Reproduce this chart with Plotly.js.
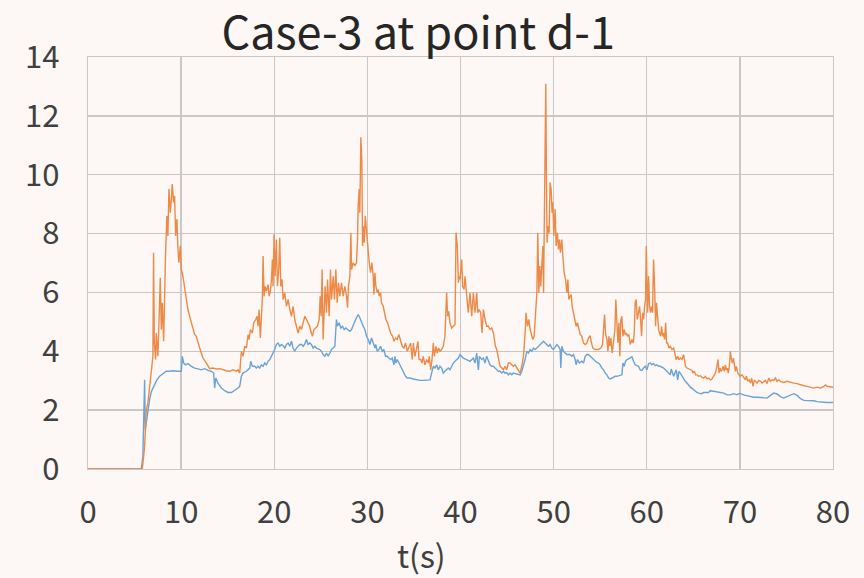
<!DOCTYPE html>
<html>
<head>
<meta charset="utf-8">
<script src="https://cdn.plot.ly/plotly-3.0.1.min.js"></script>
<style>
  html, body { margin: 0; padding: 0; background: #fdf8f5; }
  #chart { width: 864px; height: 578px; }
</style>
</head>
<body>
<div id="chart"></div>
<script>
// Time (s) and value samples for the two recorded series.
const orangeT = [
  0, 5.83, 6.08, 6.26, 6.43, 6.61, 6.80, 6.97, 7.04, 7.12,
  7.26, 7.33, 7.51, 7.69, 7.76, 7.87, 7.98, 8.12, 8.23, 8.33,
  8.47, 8.58, 8.69, 8.84, 8.95, 9.05, 9.19, 9.30, 9.41, 9.55,
  9.66, 9.76, 9.91, 10.02, 10.19, 10.38, 10.56, 10.73, 10.91, 11.10,
  11.27, 11.45, 11.63, 11.81, 11.99, 12.17, 12.34, 12.71, 13.06, 13.42,
  13.78, 14.14, 14.49, 14.86, 15.22, 15.57, 15.94, 16.11,
  16.29, 16.47, 16.65, 16.83, 17.01, 17.19, 17.29, 17.44, 17.65, 17.80,
  18.01, 18.15, 18.26, 18.37, 18.51, 18.62, 18.73, 18.80, 18.91, 19.01,
  19.16, 19.34, 19.44, 19.59, 19.70, 19.80, 19.87, 19.98, 20.09, 20.23,
  20.34, 20.48, 20.59, 20.70, 20.84, 20.95, 21.13, 21.31, 21.49, 21.67,
  21.85, 22.02, 22.20, 22.38, 22.56, 22.74, 22.92, 23.10, 23.28, 23.46,
  23.63, 23.81, 23.92, 24.10, 24.25, 24.46, 24.64, 24.82, 24.93, 25.03,
  25.14, 25.25, 25.36, 25.46, 25.61, 25.72, 25.90, 26.04, 26.15, 26.33,
  26.47, 26.61, 26.76, 26.90, 27.04, 27.22, 27.40, 27.58, 27.76, 27.87,
  27.97,
  28.12, 28.23, 28.30, 28.48, 28.66, 28.83, 28.94, 29.01, 29.12, 29.19,
  29.30, 29.41, 29.48, 29.55, 29.66, 29.77, 29.91, 29.98, 30.09, 30.20,
  30.34, 30.48, 30.63, 30.70, 30.81, 30.91, 31.06, 31.16, 31.27, 31.42,
  31.52, 31.70, 31.81, 31.99, 32.17, 32.34, 32.49, 32.71, 32.85, 33.03,
  33.21, 33.38, 33.56, 33.74, 33.92, 34.10, 34.28, 34.46, 34.64, 34.82,
  34.93, 35.11, 35.29, 35.43, 35.54, 35.72, 35.86, 36.00, 36.18, 36.36,
  36.54, 36.65, 36.80, 36.94, 37.08, 37.19, 37.37, 37.51, 37.65, 37.80,
  37.97, 38.15, 38.33, 38.44, 38.51, 38.62, 38.73, 38.87, 39.05, 39.23,
  39.41, 39.52, 39.66, 39.77, 39.88,
  39.95, 40.13, 40.23, 40.38, 40.48, 40.66, 40.84, 41.02, 41.20, 41.38,
  41.56, 41.74, 41.85, 41.99, 42.17, 42.31, 42.46, 42.63, 42.81, 42.99,
  43.17, 43.35, 43.53, 43.64, 43.75, 43.89, 44.07, 44.25, 44.43, 44.61,
  44.78, 44.96, 45.14, 45.32, 45.50, 45.68, 45.86, 46.04, 46.22, 46.40,
  46.58, 46.76, 46.94, 47.04, 47.19, 47.33, 47.48, 47.62, 47.76, 47.91,
  48.05, 48.20, 48.30, 48.41, 48.52, 48.62, 48.73, 48.84, 48.92, 48.98,
  49.09, 49.16, 49.23, 49.30, 49.41, 49.52, 49.62, 49.73, 49.84, 49.91,
  50.02, 50.16, 50.27, 50.41, 50.52, 50.63, 50.73, 50.88, 50.99, 51.13,
  51.28, 51.42, 51.53, 51.63,
  51.77, 51.88, 51.99, 52.13, 52.31, 52.42, 52.56, 52.71, 52.85, 53.03,
  53.21, 53.39, 53.56, 53.74, 53.92, 54.03, 54.21, 54.46, 54.82, 55.07,
  55.25, 55.36, 55.47, 55.57, 55.72, 55.83, 55.93, 56.04, 56.15, 56.29,
  56.43, 56.58, 56.68, 56.79, 56.90, 57.01, 57.11, 57.22, 57.33, 57.44,
  57.58, 57.69, 57.80, 57.94, 58.08, 58.23, 58.41, 58.55, 58.66, 58.76,
  58.87, 58.98, 59.12, 59.23, 59.34, 59.44, 59.55, 59.66, 59.77, 59.87,
  59.95, 60.02, 60.09, 60.20, 60.30, 60.41, 60.52, 60.62, 60.73, 60.84,
  60.95, 61.05, 61.16, 61.27, 61.38, 61.49, 61.59, 61.70, 61.81, 61.92,
  62.03, 62.13, 62.24, 62.39, 62.53, 62.71, 62.89, 63.03, 63.17, 63.32,
  63.46,
  63.60, 63.78, 63.96, 64.07, 64.17, 64.32, 64.50, 64.68, 64.86, 64.96,
  65.11, 65.25, 65.39, 65.57, 65.75, 65.93, 66.11, 66.29, 66.47, 66.65,
  66.83, 67.01, 67.19, 67.37, 67.54, 67.65, 67.76, 67.87, 67.97, 68.08,
  68.19, 68.33, 68.44, 68.55, 68.66, 68.76, 68.87, 68.98, 69.09, 69.19,
  69.30, 69.41, 69.52, 69.62, 69.77, 69.91, 70.05, 70.23, 70.41, 70.59,
  70.70, 70.84, 70.99, 71.13, 71.27, 71.41, 71.56, 71.70, 71.84, 72.02,
  72.20, 72.38, 72.56, 72.74, 72.92, 73.10, 73.28, 73.46, 73.64, 73.82,
  74.00, 74.18, 74.35, 74.71, 75.07, 75.43, 75.79, 76.15, 76.51, 76.87,
  77.22, 77.58, 77.94, 78.30, 78.66, 79.02, 79.20, 79.38, 79.73, 80.00
];
const orangeV = [
  0, 0, 0.76, 2.01, 2.24, 2.81, 3.26, 3.83, 7.35, 4.28,
  3.72, 4.62, 3.83, 5.42, 6.50, 4.74, 5.65, 4.34, 6.33, 7.35,
  8.60, 7.92, 9.51, 8.71, 9.17, 9.68, 9.06, 9.28, 7.92, 8.49,
  7.46, 7.01, 7.58, 6.78, 6.55, 6.10, 5.76, 5.42, 5.19, 4.97,
  4.85, 4.57, 4.51, 4.28, 4.11, 3.94, 3.77, 3.60, 3.41, 3.43,
  3.40, 3.41, 3.37, 3.34, 3.32, 3.37, 3.32, 3.37,
  3.26, 4.00, 3.83, 4.17, 4.11, 4.57, 4.40, 4.74, 4.62, 4.97,
  5.08, 5.19, 4.85, 5.42, 4.45, 5.19, 5.87, 7.24, 5.87, 6.21,
  6.04, 6.27, 5.87, 6.04, 6.44, 7.12, 6.21, 7.98, 6.55, 7.80,
  6.21, 6.78, 7.86, 6.21, 6.44, 5.76, 5.99, 5.53, 5.76, 5.42,
  5.19, 5.53, 5.08, 4.85, 4.62, 4.85, 4.74, 4.97, 5.19, 5.08,
  4.97, 4.85, 4.68, 4.51, 4.74, 4.79, 4.85, 5.08, 5.87, 5.19,
  6.78, 4.40, 5.65, 6.21, 5.31, 6.44, 5.19, 6.78, 5.76, 6.55,
  5.76, 6.78, 5.65, 6.33, 5.87, 6.33, 5.87, 6.21, 5.87, 5.48,
  6.21,
  6.55, 8.03, 6.78, 7.01, 6.90, 7.01, 7.80, 8.94, 9.51, 8.71,
  11.27, 10.42, 7.58, 8.26, 7.69, 8.60, 8.03, 7.69, 7.46, 7.01,
  6.67, 7.01, 6.55, 5.93, 6.67, 6.21, 5.99, 6.10, 5.87, 5.99,
  5.65, 5.53, 5.36, 5.08, 4.97, 4.79, 4.62, 4.51, 4.34, 4.45,
  4.40, 4.57, 4.40, 4.17, 4.11, 4.28, 4.00, 4.17, 4.28, 3.72,
  4.28, 3.83, 4.06, 4.34, 3.72, 3.72, 3.60, 3.83, 3.54, 3.72,
  3.60, 3.83, 3.37, 3.72, 4.28, 3.83, 4.17, 3.94, 4.11, 4.00,
  4.06, 4.17, 4.51, 5.19, 5.99, 5.19, 5.36, 4.97, 4.79, 4.85,
  4.91, 8.03, 7.58, 6.33, 6.55,
  6.44, 7.12, 6.21, 6.10, 6.55, 5.87, 5.31, 5.99, 5.19, 5.99,
  5.31, 5.99, 5.31, 5.42, 5.31, 4.62, 5.42, 5.08, 4.85, 4.85,
  4.74, 4.79, 4.62, 4.40, 4.17, 4.06, 3.72, 3.49, 3.43, 3.37,
  3.49, 3.37, 3.60, 3.60, 3.54, 3.49, 3.54, 3.43, 3.37, 3.26,
  3.49, 3.83, 4.62, 5.31, 4.85, 5.08, 4.74, 4.51, 4.40, 4.51,
  5.31, 5.99, 8.03, 5.99, 6.90, 6.21, 6.90, 7.58, 5.99, 7.80,
  9.85, 13.09, 9.85, 7.69, 8.26, 8.03, 9.74, 9.51, 8.71, 9.06,
  7.92, 8.83, 7.58, 8.03, 7.46, 7.80, 7.35, 7.80, 7.24, 6.67,
  6.44, 5.99, 6.44, 5.76,
  5.87, 5.93, 5.53, 5.31, 5.08, 4.85, 4.97, 4.74, 4.57, 4.51,
  4.28, 4.23, 4.28, 4.45, 4.53, 4.34, 4.11, 4.06, 4.06, 4.11,
  4.23, 4.74, 5.25, 4.62, 4.40, 4.00, 4.51, 4.17, 4.45, 3.94,
  4.28, 4.74, 5.76, 4.74, 4.28, 4.97, 3.83, 5.08, 5.19, 4.51,
  4.74, 4.57, 4.62, 4.51, 4.57, 4.23, 4.40, 4.28, 4.62, 5.65,
  5.76, 5.08, 5.31, 5.53, 5.08, 4.51, 5.31, 5.08, 5.53, 5.76,
  7.58, 6.44, 5.31, 6.55, 5.53, 5.31, 5.53, 5.31, 7.12, 6.21,
  4.85, 5.65, 4.97, 4.74, 4.62, 4.51, 4.85, 4.51, 4.62, 4.40,
  4.97, 4.28, 4.28, 4.11, 4.17, 4.06, 4.11, 3.83, 3.71, 3.83,
  3.71,
  3.77, 3.72, 3.89, 3.60, 3.49, 3.43, 3.40, 3.37, 3.35, 3.26,
  3.32, 3.20, 3.20, 3.15, 3.17, 3.12, 3.09, 3.15, 3.06, 3.09,
  3.03, 3.06, 3.15, 3.26, 3.49, 3.72, 3.26, 3.43, 3.32, 3.37,
  3.49, 3.32, 3.54, 3.37, 3.43, 3.26, 3.49, 4.00, 3.72, 3.60,
  3.77, 3.49, 3.32, 3.49, 3.26, 3.20, 3.15, 3.20, 3.09, 3.03,
  3.15, 2.98, 3.03, 2.92, 3.09, 2.81, 3.03, 2.98, 2.92, 3.01,
  2.98, 2.92, 2.98, 3.01, 2.90, 3.09, 2.98, 3.03, 3.01, 3.09,
  2.98, 3.03, 2.98, 2.94, 2.98, 2.94, 2.92, 2.90, 2.86, 2.83,
  2.81, 2.78, 2.75, 2.78, 2.75, 2.81, 2.86, 2.81, 2.78, 2.78
];

const blueT = [
  0, 5.72, 5.89, 6.08, 6.15, 6.32, 6.43, 6.61, 6.80, 6.97,
  7.15, 7.40, 7.69, 8.04, 8.41, 8.76, 9.12, 9.66, 10.02, 10.13,
  10.27, 10.48, 10.73, 11.10, 11.45, 11.81, 12.17, 12.53, 12.88, 13.25,
  13.49, 13.60, 13.71, 13.96, 14.32, 14.68, 15.03, 15.40, 15.75, 16.11,
  16.29, 16.47, 16.65, 17.01, 17.37, 17.47, 17.65, 17.90, 18.08, 18.26,
  18.44, 18.62, 18.80, 18.98, 19.16, 19.34, 19.52, 19.70, 19.87, 20.05,
  20.23, 20.41, 20.59, 20.77, 20.95, 21.13, 21.31, 21.49, 21.67, 21.85,
  22.02, 22.20, 22.38, 22.56, 22.74, 22.92, 23.10, 23.28, 23.46, 23.63,
  23.81, 23.99, 24.17, 24.35, 24.53, 24.89, 25.07, 25.25, 25.43, 25.61,
  25.79, 25.97, 26.15, 26.33, 26.51, 26.61, 26.68, 26.79, 26.97, 27.15,
  27.33, 27.51, 27.69, 27.87,
  28.12, 28.30, 28.48, 28.66, 28.83, 29.01, 29.19, 29.37, 29.55, 29.73,
  29.91, 30.09, 30.27, 30.45, 30.63, 30.81, 30.91, 31.06, 31.24, 31.42,
  31.60, 31.77, 31.95, 32.13, 32.31, 32.49, 32.67, 32.85, 32.96, 33.06,
  33.21, 33.38, 33.56, 33.74, 33.92, 34.10, 34.28, 34.57, 34.93, 35.29,
  35.65, 36.00, 36.36, 36.72, 36.90, 37.08, 37.26, 37.44, 37.62, 37.80,
  37.97, 38.15, 38.33, 38.51, 38.69, 38.87, 39.05, 39.23, 39.41, 39.59,
  39.77,
  39.95, 40.30, 40.66, 41.02, 41.38, 41.56, 41.74, 41.92, 42.03, 42.28,
  42.46, 42.63, 42.81, 42.99, 43.17, 43.35, 43.53, 43.71, 43.89, 44.07,
  44.25, 44.43, 44.61, 44.78, 44.96, 45.14, 45.32, 45.50, 45.68, 46.04,
  46.40, 46.58, 46.76, 46.94, 47.12, 47.30, 47.48, 47.66, 47.83, 48.01,
  48.19, 48.37, 48.55, 48.73, 48.91, 49.09, 49.27, 49.45, 49.62, 49.80,
  49.98, 50.16, 50.34, 50.52, 50.70, 50.77, 50.88, 51.06, 51.24, 51.42,
  51.59,
  51.77, 51.95, 52.13, 52.31, 52.42, 52.56, 52.78, 53.03, 53.21, 53.39,
  53.56, 53.74, 53.92, 54.10, 54.28, 54.46, 54.64, 54.82, 55.00, 55.18,
  55.36, 55.54, 55.72, 55.90, 56.08, 56.25, 56.43, 56.61, 56.79, 56.97,
  57.15, 57.33, 57.44, 57.58, 57.72, 57.87, 58.05, 58.23, 58.41, 58.58,
  58.76, 58.94, 59.12, 59.30, 59.48, 59.66, 59.84, 60.02, 60.20, 60.38,
  60.56, 60.73, 60.91, 61.09, 61.27, 61.45, 61.63, 61.81, 61.99, 62.17,
  62.35, 62.53, 62.63, 62.74, 62.89, 63.06, 63.17, 63.32, 63.46,
  63.60, 63.78, 63.96, 64.14, 64.32, 64.50, 64.68, 64.86, 65.04, 65.22,
  65.39, 65.57, 65.75, 65.93, 66.11, 66.29, 66.47, 66.65, 66.83, 67.01,
  67.19, 67.54, 67.90, 68.26, 68.62, 68.98, 69.34, 69.70, 69.87, 70.05,
  70.41, 70.77, 71.13, 71.49, 71.84, 72.20, 72.56, 72.74, 72.92, 73.28,
  73.64, 74.00, 74.35, 74.71, 75.07, 75.43, 75.79, 76.15, 76.51, 76.87,
  77.22, 77.58, 77.94, 78.30, 78.66, 79.02, 79.38, 79.73, 80.00
];
const blueV = [
  0, 0, 0.42, 3.03, 1.33, 1.78, 2.01, 2.35, 2.63, 2.75,
  2.86, 3.03, 3.15, 3.24, 3.32, 3.32, 3.34, 3.32, 3.32, 3.83,
  3.60, 3.54, 3.58, 3.49, 3.43, 3.40, 3.37, 3.41, 3.35, 3.32,
  3.26, 2.75, 3.09, 2.92, 2.75, 2.66, 2.60, 2.60, 2.67, 2.75,
  2.81, 3.15, 3.26, 3.32, 3.43, 3.66, 3.49, 3.49, 3.43, 3.49,
  3.43, 3.54, 3.49, 3.60, 3.54, 3.66, 3.72, 3.83, 3.94, 4.06,
  4.23, 4.28, 4.17, 4.23, 4.19, 4.11, 4.23, 4.28, 4.17, 4.34,
  4.11, 4.00, 4.11, 4.17, 4.23, 4.23, 4.17, 4.25, 4.40, 4.23,
  4.28, 4.23, 4.11, 4.17, 4.11, 4.06, 4.00, 3.89, 3.83, 3.94,
  3.83, 3.94, 4.06, 4.11, 4.17, 4.74, 5.08, 4.85, 4.97, 4.79,
  4.85, 4.74, 4.79, 4.74,
  4.68, 4.74, 4.91, 5.02, 5.14, 5.25, 5.14, 4.97, 4.85, 4.74,
  4.51, 4.40, 4.23, 4.45, 4.28, 4.11, 4.23, 4.00, 4.06, 4.17,
  4.00, 4.06, 3.83, 3.83, 3.77, 3.72, 3.77, 3.54, 3.83, 3.60,
  3.72, 3.60, 3.49, 3.37, 3.26, 3.15, 3.09, 3.09, 3.06, 3.03,
  3.01, 3.01, 3.01, 3.03, 3.26, 3.49, 3.43, 3.54, 3.37, 3.49,
  3.43, 3.26, 3.32, 3.37, 3.43, 3.37, 3.49, 3.60, 3.66, 3.72,
  3.77,
  3.89, 3.77, 3.72, 3.66, 3.77, 3.60, 3.94, 3.37, 3.83, 3.72,
  3.77, 3.60, 3.83, 3.66, 3.54, 3.49, 3.49, 3.43, 3.37, 3.32,
  3.32, 3.26, 3.32, 3.26, 3.28, 3.20, 3.26, 3.20, 3.26, 3.24,
  3.20, 3.32, 3.49, 3.72, 4.00, 3.94, 4.06, 4.00, 4.11, 4.06,
  4.11, 4.17, 4.23, 4.28, 4.34, 4.28, 4.23, 4.17, 4.23, 4.11,
  4.06, 4.17, 4.23, 4.17, 4.06, 3.43, 4.17, 4.00, 3.94, 3.89,
  3.89,
  3.89, 3.83, 3.89, 3.72, 3.54, 3.72, 3.60, 3.66, 3.60, 3.83,
  3.89, 3.89, 3.83, 3.77, 3.72, 3.66, 3.62, 3.60, 3.54, 3.43,
  3.37, 3.26, 3.20, 3.09, 3.06, 3.09, 3.12, 3.15, 3.15, 3.17,
  3.18, 3.20, 3.60, 3.49, 3.66, 3.72, 3.74, 3.77, 3.81, 3.66,
  3.54, 3.51, 3.49, 3.37, 3.35, 3.43, 3.49, 3.37, 3.58, 3.60,
  3.54, 3.58, 3.51, 3.54, 3.49, 3.49, 3.47, 3.43, 3.37, 3.32,
  3.26, 3.20, 3.40, 3.26, 3.15, 3.29, 3.37, 3.03, 3.32,
  3.26, 3.15, 3.06, 2.98, 2.92, 2.83, 2.78, 2.74, 2.69, 2.64,
  2.60, 2.58, 2.56, 2.56, 2.60, 2.60, 2.58, 2.60, 2.67, 2.64,
  2.64, 2.62, 2.60, 2.58, 2.52, 2.52, 2.56, 2.52, 2.56, 2.56,
  2.52, 2.49, 2.46, 2.44, 2.44, 2.43, 2.41, 2.39, 2.41, 2.50,
  2.58, 2.55, 2.46, 2.41, 2.46, 2.52, 2.56, 2.50, 2.39, 2.33,
  2.33, 2.33, 2.32, 2.29, 2.29, 2.27, 2.26, 2.26, 2.26
];

const xTicks = [0, 10, 20, 30, 40, 50, 60, 70, 80];
const yTicks = [0, 2, 4, 6, 8, 10, 12, 14];

const FONT = '"Noto Sans CJK TC", "Noto Sans", sans-serif';
const GRID = '#cbc7c4';
const BG = '#fdf8f5';

const traces = [
  { x: blueT, y: blueV, type: 'scatter', mode: 'lines',
    line: { color: '#6aa3d8', width: 1.4 }, hoverinfo: 'skip' },
  { x: orangeT, y: orangeV, type: 'scatter', mode: 'lines',
    line: { color: '#ee8a47', width: 1.4 }, hoverinfo: 'skip' }
];

const layout = {
  width: 864, height: 578,
  paper_bgcolor: BG, plot_bgcolor: BG,
  showlegend: false,
  margin: { l: 88, r: 31, t: 57, b: 109, pad: 0 },
  font: { family: FONT, color: '#404040' },
  title: {
    text: 'Case-3 at point d-1',
    font: { family: FONT, size: 45, color: '#262626' },
    xref: 'container', x: 0.484, xanchor: 'center',
    yref: 'container', y: 1 - 33 / 578, yanchor: 'middle'
  },
  xaxis: {
    range: [0, 80], tickvals: xTicks, ticktext: xTicks.map(String),
    showgrid: true, gridcolor: GRID, gridwidth: 1.3,
    zeroline: false, showline: true, linecolor: GRID, linewidth: 1.3, mirror: true,
    ticks: '', ticklabelstandoff: 15,
    tickfont: { family: FONT, size: 31, color: '#404040' },
    fixedrange: true
  },
  yaxis: {
    range: [0, 14], tickvals: yTicks, ticktext: yTicks.map(String),
    showgrid: true, gridcolor: GRID, gridwidth: 1.3,
    zeroline: false, showline: true, linecolor: GRID, linewidth: 1.3, mirror: true,
    ticks: '', ticklabelstandoff: 21,
    tickfont: { family: FONT, size: 31, color: '#404040' },
    fixedrange: true
  },
  annotations: [{
    text: 't(s)', showarrow: false,
    xref: 'paper', x: (421.7 - 88) / 745, xanchor: 'center',
    yref: 'paper', y: -(554 - 469) / 412, yanchor: 'middle',
    font: { family: FONT, size: 32, color: '#404040' }
  }]
};

Plotly.newPlot('chart', traces, layout, { displayModeBar: false, staticPlot: true });
</script>
</body>
</html>
